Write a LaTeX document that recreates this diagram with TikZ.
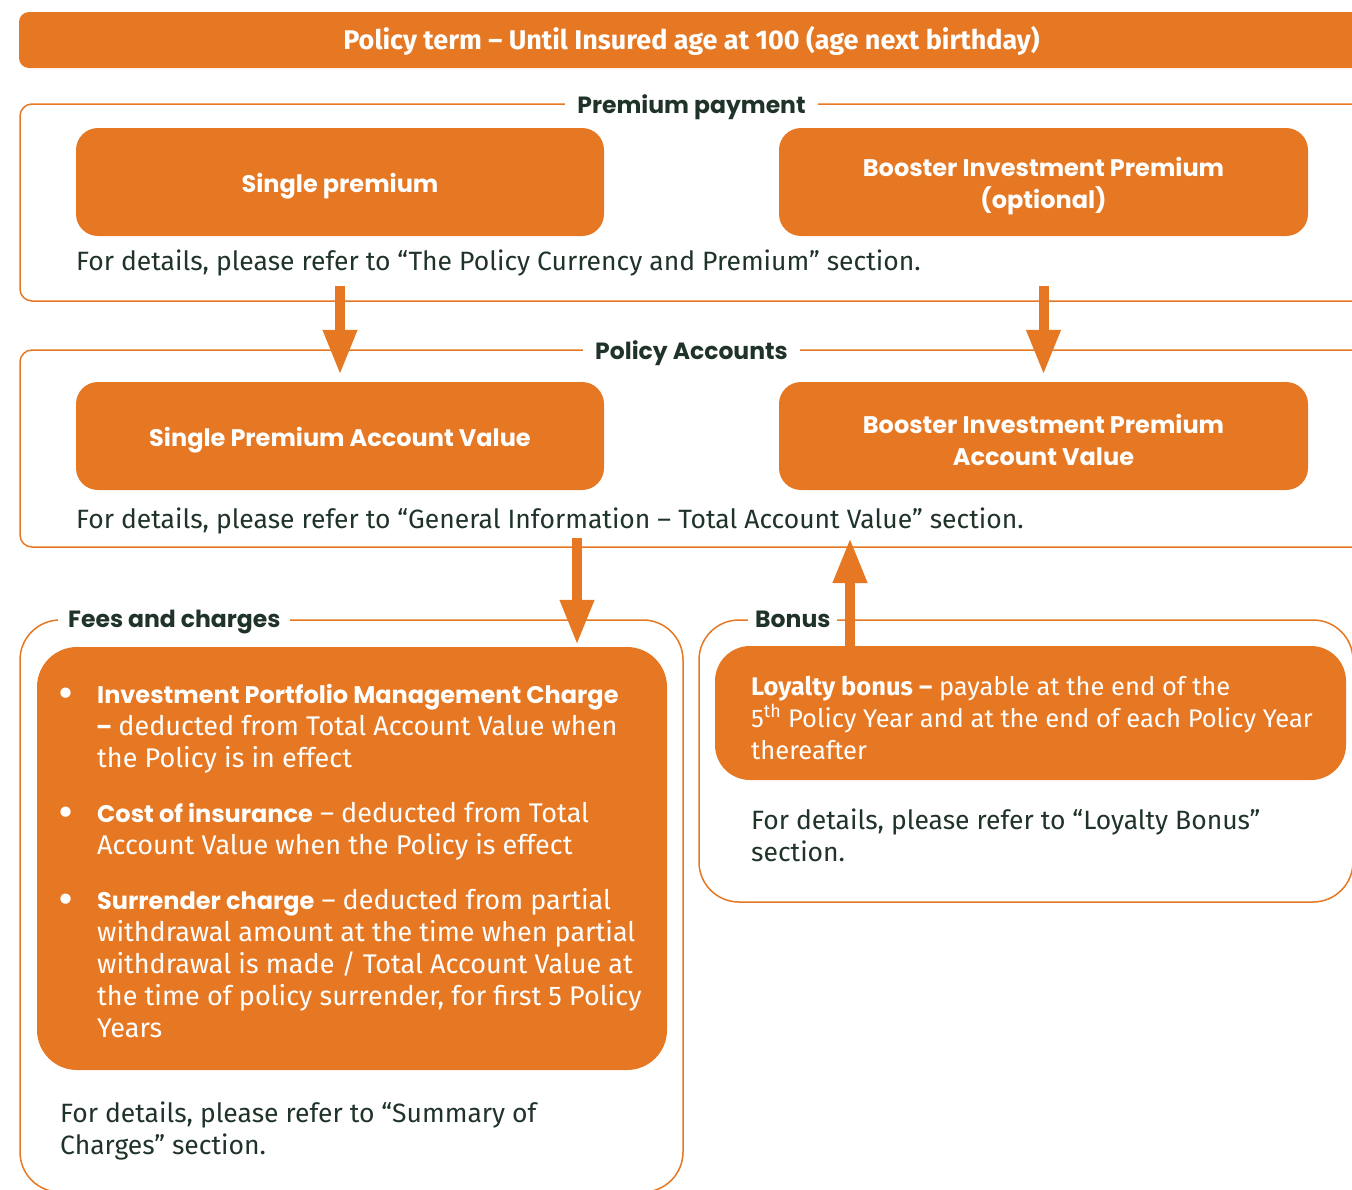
\documentclass[tikz,border=0pt]{standalone}
\usepackage{fontspec}
\setmainfont{Fira Sans}
\newfontfamily\headfont{Poppins}
\usetikzlibrary{arrows.meta,positioning}
\definecolor{BoxClr}{HTML}{E67823}
\definecolor{TextClr}{HTML}{1F3329}
\newcommand\bodysize{\fontsize{26.5}{32}\selectfont}
\newcommand\feesize{\fontsize{27}{32}\selectfont}
\newcommand\bonsize{\fontsize{25.5}{32}\selectfont}
\newcommand\headsize{\fontsize{24}{32}\selectfont}
\newcommand\titlesize{\fontsize{23.5}{32}\selectfont}
\newcommand\hb[1]{{\headfont\bfseries\fontsize{24}{32}\selectfont#1}}

\begin{document}
\begin{tikzpicture}[x=1pt,y=-1pt,
  orangebox/.style={fill=BoxClr,rounded corners=22pt,inner sep=0pt},
  boxtitle/.style={text=white,font=\headfont\headsize\bfseries,align=center,inner sep=0pt},
  frame/.style={draw=BoxClr,line width=1.5pt,rounded corners=12pt,inner sep=0pt},
  frametitle/.style={fill=white,text=TextClr,font=\headfont\titlesize\bfseries,
    inner xsep=12pt,inner ysep=2pt,text height=17pt,text depth=6pt},
  note/.style={text=TextClr,font=\bodysize,align=left,inner sep=0pt,anchor=base west},
  feetext/.style={note,text=white,font=\feesize},
  dot/.style={note,text=white,anchor=base,font=\headfont\fontsize{34}{32}\selectfont\bfseries},
  bigarrow/.style={draw=BoxClr,line width=10pt,-{Triangle[width=32pt,length=45pt]}}]
\useasboundingbox (0,0) rectangle (1352,1189);
\clip (0,0) rectangle (1352,1189);

% policy term
\node[orangebox,rounded corners=10pt,minimum width=1381,minimum height=56] (term) at (709.5,40) {};
\node[text=white,font=\bfseries\fontsize{27}{30}\selectfont] (termtxt) at (691.5,40.5)
  {Policy term – Until Insured age at 100 (age next birthday)};

% premium payment
\node[frame,minimum width=1380,minimum height=197] (payframe) at (710,202.5) {};
\node[frametitle] (paytitle) at (691.5,107.5) {Premium payment};
\node[orangebox,minimum width=528,minimum height=108] (sp) at (340,182) {};
\node[boxtitle] (sptxt) at (340,186) {Single premium};
\node[orangebox,minimum width=529,minimum height=108] (bip) at (1043.5,182) {};
\node[boxtitle] (biptxt) at (1043.5,186) {Booster Investment Premium\\(optional)};
\node[note] (paynote) at (76,270)
  {For details, please refer to “The Policy Currency and Premium” section.};

% policy accounts
\node[frame,minimum width=1380,minimum height=197] (accframe) at (710,448.5) {};
\node[frametitle] (acctitle) at (691.5,353.5) {Policy Accounts};
\node[orangebox,minimum width=528,minimum height=108] (spav) at (340,436) {};
\node[boxtitle] (spavtxt) at (340,440) {Single Premium Account Value};
\node[orangebox,minimum width=529,minimum height=108] (bipav) at (1043.5,436) {};
\node[boxtitle] (bipavtxt) at (1043.5,440) {Booster Investment Premium\\Account Value};
\node[note] (accnote) at (76,528)
  {For details, please refer to “General Information – Total Account Value” section.};

% fees and charges
\node[frame,rounded corners=40pt,minimum width=663,minimum height=572] (feeframe) at (351.5,906) {};
\node[frametitle,anchor=west,inner xsep=10pt] (feetitle) at (58,621.5) {Fees and charges};
\node[orangebox,rounded corners=40pt,minimum width=630,minimum height=423] (fees) at (352,858.5) {};
\node[dot] (b1) at (66,704) {•};
\node[feetext] (fee1) at (97,767)
  {\hb{Investment Portfolio Management Charge}\\\textbf{–} deducted from Total Account Value when\\the Policy is in effect};
\node[dot] (b2) at (66,823) {•};
\node[feetext] (fee2) at (97,854)
  {\hb{Cost of insurance} – deducted from Total\\Account Value when the Policy is effect};
\node[dot] (b3) at (66,910) {•};
\node[feetext] (fee3) at (97,1037)
  {\hb{Surrender charge} – deducted from partial\\withdrawal amount at the time when partial\\withdrawal is made / Total Account Value at\\the time of policy surrender, for first 5 Policy\\Years};
\node[note] (feenote) at (60,1154)
  {For details, please refer to “Summary of\\Charges” section.};

% bonus
\node[frame,rounded corners=40pt,minimum width=654,minimum height=282] (bonframe) at (1026,761) {};
\node[frametitle,anchor=west,inner xsep=7pt] (bontitle) at (748,621.5) {Bonus};
\node[orangebox,rounded corners=35pt,minimum width=631,minimum height=134] (bonus) at (1030.5,713) {};
\node[note,text=white,font=\bonsize] (bontxt) at (751,759)
  {\textbf{Loyalty bonus –} payable at the end of the\\5\textsuperscript{th} Policy Year and at the end of each Policy Year\\thereafter};
\node[note] (bonnote) at (751,861)
  {For details, please refer to “Loyalty Bonus”\\section.};

% arrows
\draw[bigarrow,shorten <=50pt,shorten >=7pt] (sp) -- (spav);
\draw[bigarrow,shorten <=50pt,shorten >=7pt] (bip) -- (bipav);
\coordinate (feesin) at (577,538);
\draw[bigarrow,shorten >=2pt] (feesin) -- (feesin |- fees.north);
\coordinate (bonusout) at (850,538);
\draw[bigarrow] (bonusout |- bonus.north) -- (bonusout);

\end{tikzpicture}
\end{document}
